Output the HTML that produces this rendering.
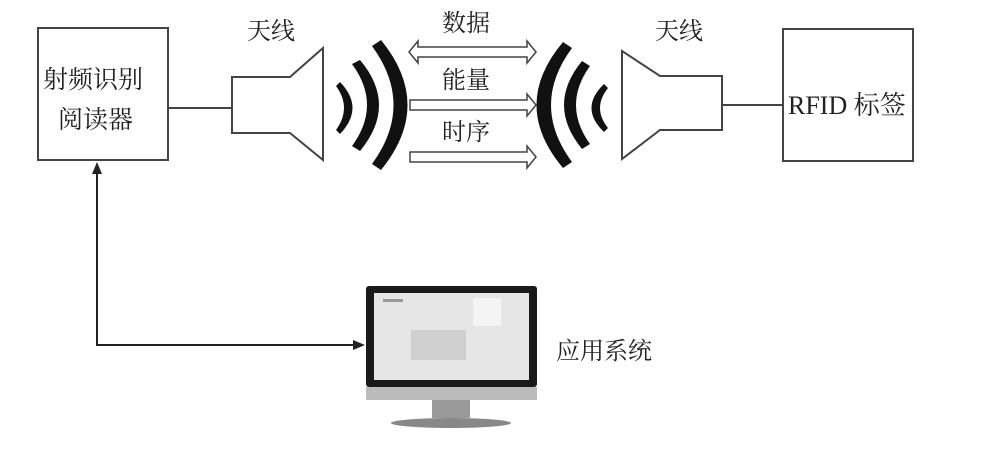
<!DOCTYPE html>
<html><head><meta charset="utf-8"><style>
body{margin:0;background:#fff;}
svg{display:block}
text{font-family:"Liberation Serif","Noto Serif CJK SC",serif;fill:#222}
</style></head><body>
<svg width="997" height="465" viewBox="0 0 997 465">
<rect x="0" y="0" width="997" height="465" fill="#fff"/>
<g stroke="#444" stroke-width="2" fill="none">
<rect x="38" y="28" width="130" height="132"/>
<line x1="168" y1="108" x2="232" y2="108"/>
<polygon points="232,77 290,77 323,48 323,160 290,133 232,133"/>
<rect x="783" y="29" width="130" height="132"/>
<line x1="722" y1="105" x2="783" y2="105"/>
<polygon points="722,76 660,76 622,51 622,159 660,130 722,130"/>
<polygon points="418,47 527,47 527,41 536,52 527,63 527,57 418,57 418,63 409,52 418,41" stroke-width="1.5"/>
<polygon points="410,100 527,100 527,94 536,105 527,116 527,110 410,110" stroke-width="1.5"/>
<polygon points="410,152 527,152 527,146 536,157 527,168 527,162 410,162" stroke-width="1.5"/>
<polyline points="97,168 97,345 358,345" stroke="#222"/>
</g>
<polygon points="97,162 92,174 102,174" fill="#222"/>
<polygon points="365,345 353,340 353,350" fill="#222"/>
<g fill="#111">
<path d="M336,86 Q352,108 336,130 L340,134 Q365,108 340,82 Z"/>
<path d="M352,64 Q382,105 352,146 L360,151 Q398,105 360,60 Z"/>
<path d="M372,46 Q415,105 372,164 L381,170 Q434,105 381,40 Z"/>
<path d="M608,88 Q592,108 608,128 L604,132 Q579,108 604,84 Z"/>
<path d="M590,66 Q562,105 590,144 L582,149 Q546,105 582,61 Z"/>
<path d="M572,48 Q530,105 572,162 L563,168 Q510,105 563,42 Z"/>
</g>
<g font-size="24">
<text x="247" y="39">天线</text>
<text x="655" y="39">天线</text>
<text x="442" y="31">数据</text>
<text x="442" y="88">能量</text>
<text x="442" y="140">时序</text>
<text x="43" y="88" font-size="25">射频识别</text>
<text x="58" y="128" font-size="25">阅读器</text>
<text x="788" y="114" font-size="26">RFID 标签</text>
<text x="556" y="359">应用系统</text>
</g>
<rect x="366" y="286" width="171" height="101" rx="3" fill="#1a1a1a"/>
<rect x="374" y="293" width="155" height="87" fill="#e6e6e6"/>
<rect x="383" y="299" width="20" height="3" fill="#999"/>
<rect x="411" y="330" width="55" height="30" fill="#cfcfcf"/>
<rect x="473" y="298" width="28" height="28" fill="#f4f4f4"/>
<rect x="366" y="387" width="171" height="13" fill="#bbb"/>
<rect x="432" y="400" width="38" height="18" fill="#999"/>
<ellipse cx="451" cy="423" rx="60" ry="5" fill="#888"/>
</svg>
</body></html>
